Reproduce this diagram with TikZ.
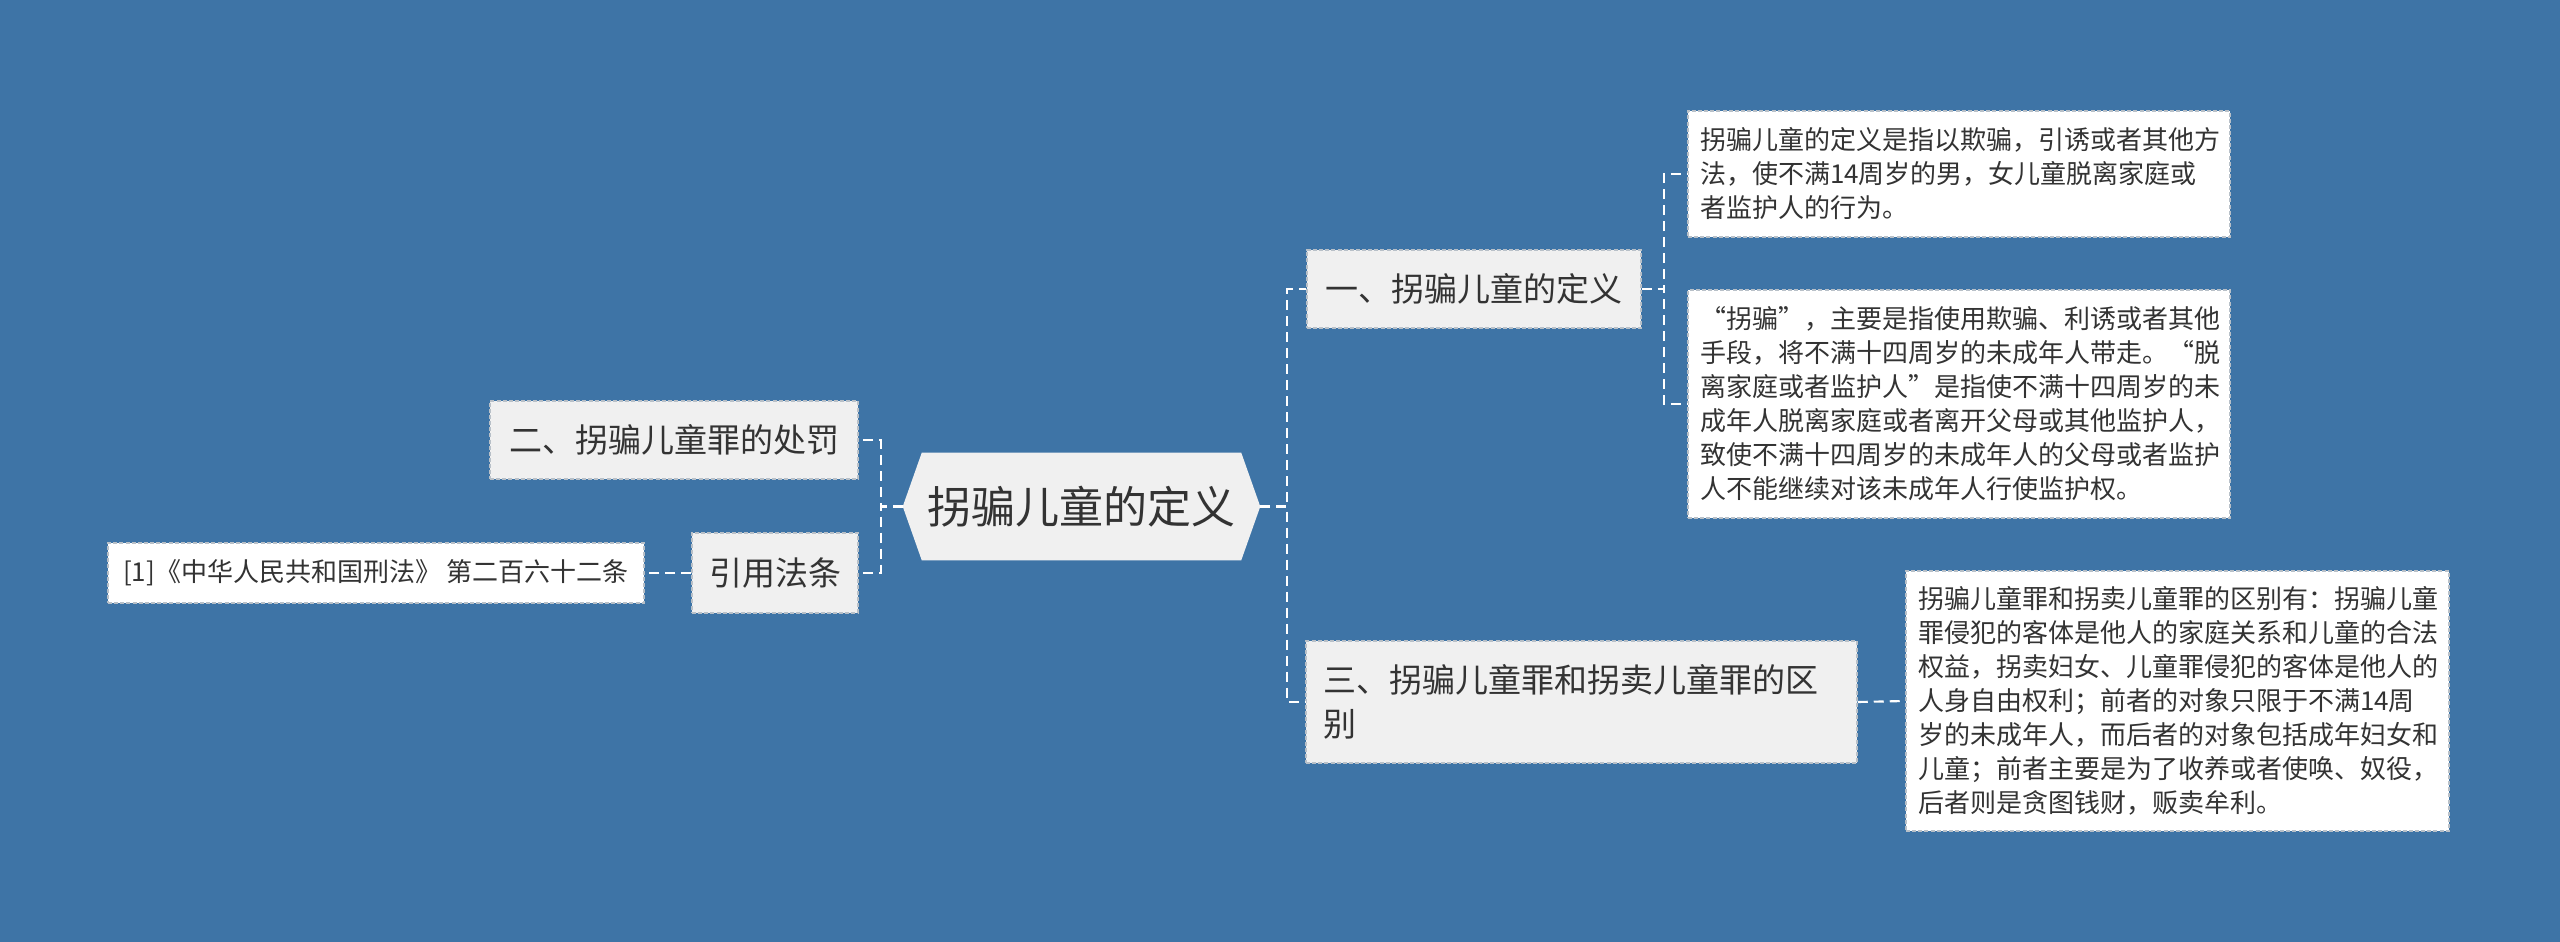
\documentclass[tikz,border=0pt]{standalone}
\usepackage{fontspec}
\setmainfont{Noto Sans CJK SC}
\newfontfamily\fwq[CharacterWidth=Full]{Noto Sans CJK SC}
\usetikzlibrary{backgrounds}
\definecolor{bgblue}{HTML}{3E74A6}
\definecolor{pale}{HTML}{F0F0F0}
\definecolor{ink}{HTML}{333333}
\definecolor{edgecol}{HTML}{B8C0C8}
\newdimen\pxu \pxu=0.75pt
\begin{document}
\begin{tikzpicture}[x=0.75pt,y=-0.75pt,
  boxbase/.style={draw=edgecol, line width=1.1pt, dash pattern=on 3pt off 1.6pt, text=ink, inner ysep=0pt, anchor=center},
  leaf/.style={boxbase, fill=white, align=left, inner xsep=12\pxu, font=\fontsize{19.5pt}{25.5pt}\selectfont},
  topic/.style={boxbase, fill=pale, inner xsep=17\pxu, font=\fontsize{24.75pt}{33pt}\selectfont},
  rootnode/.style={text=ink, inner sep=0pt, font=\fontsize{33pt}{40pt}\selectfont},
  conn/.style={draw=white, line width=1.6pt, dash pattern=on 7.5pt off 4.5pt}]
\useasboundingbox (0,0) rectangle (2560,942);
% root
\node[rootnode, minimum width=357\pxu, minimum height=107\pxu] (root) at (1081.5,506.5) {拐骗儿童的定义};
% first level
\node[topic, minimum width=334\pxu, minimum height=78\pxu] (n1) at (1474,289) {一、拐骗儿童的定义};
\node[topic, align=left, text width=517\pxu, minimum height=122\pxu] (n3) at (1581.5,702) {三、拐骗儿童罪和拐卖儿童罪的区\\别};
\node[topic, minimum width=368\pxu, minimum height=78\pxu] (n2) at (674,440) {二、拐骗儿童罪的处罚};
\node[topic, minimum width=166\pxu, minimum height=80\pxu] (ncite) at (775,573) {引用法条};
% leaves
\node[leaf, text width=518\pxu, minimum height=126\pxu] (l1) at (1959,174) {拐骗儿童的定义是指以欺骗，引诱或者其他方\\法，使不满14周岁的男，女儿童脱离家庭或\\者监护人的行为。};
\node[leaf, text width=518\pxu, minimum height=228\pxu] (l2) at (1959,404) {{\fwq “}拐骗{\fwq ”}，主要是指使用欺骗、利诱或者其他\\手段，将不满十四周岁的未成年人带走。{\fwq “}脱\\离家庭或者监护人{\fwq ”}是指使不满十四周岁的未\\成年人脱离家庭或者离开父母或其他监护人，\\致使不满十四周岁的未成年人的父母或者监护\\人不能继续对该未成年人行使监护权。};
\node[leaf, text width=519\pxu, minimum height=260\pxu] (l3) at (2177.5,701) {拐骗儿童罪和拐卖儿童罪的区别有：拐骗儿童\\罪侵犯的客体是他人的家庭关系和儿童的合法\\权益，拐卖妇女、儿童罪侵犯的客体是他人的\\人身自由权利；前者的对象只限于不满14周\\岁的未成年人，而后者的对象包括成年妇女和\\儿童；前者主要是为了收养或者使唤、奴役，\\后者则是贪图钱财，贩卖牟利。};
\node[leaf, inner xsep=15\pxu, minimum width=532\pxu, minimum height=60\pxu] (lcite) at (376,573) {[1]《中华人民共和国刑法》 第二百六十二条};
% background and root shape
\begin{scope}[on background layer]
  \fill[bgblue] (0,0) rectangle (2560,942);
  \fill[pale] (root.west) -- ([xshift=19\pxu]root.north west) -- ([xshift=-19\pxu]root.north east) -- (root.east) -- ([xshift=-19\pxu]root.south east) -- ([xshift=19\pxu]root.south west) -- cycle;
\end{scope}
% connectors
\draw[conn] (root.east) -- ++(27,0) |- (n1.west);
\draw[conn] (root.east) -- ++(27,0) |- (n3.west);
\draw[conn] (root.west) -- ++(-22,0) |- (n2.east);
\draw[conn] (root.west) -- ++(-22,0) |- (ncite.east);
\draw[conn] (n1.east) -- ++(22,0) |- (l1.west);
\draw[conn] (n1.east) -- ++(22,0) |- (l2.west);
\draw[conn] (n3.east) -- (l3.west);
\draw[conn] (ncite.west) -- (lcite.east);
\end{tikzpicture}
\end{document}
